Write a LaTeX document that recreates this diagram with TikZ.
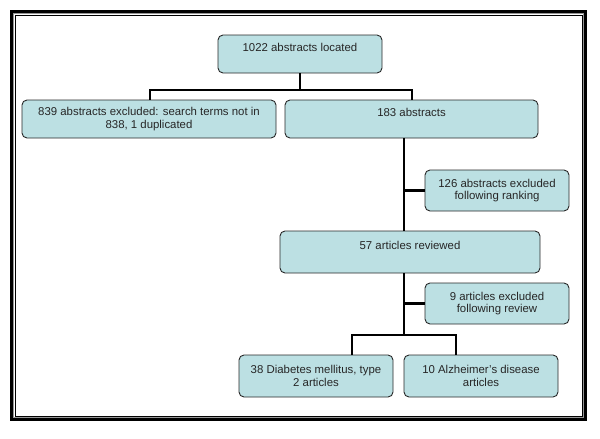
\documentclass[tikz,border=0pt]{standalone}
\usepackage{fontspec}
\setmainfont{Liberation Sans}
\definecolor{boxfill}{RGB}{188,224,227}
\definecolor{boxline}{RGB}{40,40,40}
\definecolor{framegray}{RGB}{150,150,150}
\begin{document}
\begin{tikzpicture}[x=1pt,y=-1pt,
  fbox/.style={draw=boxline,line width=0.9pt,fill=boxfill,rounded corners=5pt,
    align=center,inner sep=0pt,text=black!85,font=\fontsize{11.4}{12.8}\selectfont},
  conn/.style={line width=2.9pt,black}]
\useasboundingbox (0,0) rectangle (600,439);
% frame
\draw[line width=2.4pt,black] (11.5,11.5) rectangle (585.5,419.5);
\draw[line width=1pt,framegray] (13.5,13.5) rectangle (583.5,417.5);
\draw[line width=0.9pt,black] (15,15) rectangle (582,416);
% boxes
\node[fbox,minimum width=164pt,minimum height=38pt] (b1) at (300,54) {1022 abstracts located\\\mbox{}};
\node[fbox,minimum width=254pt,minimum height=38pt] (b2) at (149,119) {839 abstracts excluded: search terms not in\\838, 1 duplicated};
\node[fbox,minimum width=253pt,minimum height=38pt] (b3) at (411.5,119) {183 abstracts\\\mbox{}};
\node[fbox,minimum width=144pt,minimum height=41pt] (b4) at (497,190.5) {126 abstracts excluded\\following ranking};
\node[fbox,minimum width=260pt,minimum height=42pt] (b5) at (410,252) {57 articles reviewed\\\mbox{}};
\node[fbox,minimum width=144pt,minimum height=41pt] (b6) at (497,303.5) {9 articles excluded\\following review};
\node[fbox,minimum width=154pt,minimum height=42pt] (b7) at (316,376) {38 Diabetes mellitus, type\\2 articles};
\node[fbox,minimum width=154pt,minimum height=42pt] (b8) at (481,376) {10 Alzheimer's disease\\articles};
% connectors
\coordinate (j1) at (300,90);
\coordinate (t1) at (404,138);
\coordinate (t2) at (404,273);
\coordinate (j2) at (404,335);
\draw[conn] (b1.south) -- (j1);
\draw[conn] (j1) -| ([xshift=1pt]b2.north);
\draw[conn] (j1) -| ([xshift=0.5pt]b3.north);
\draw[conn] (t1) -- (t1 |- b5.north);
\draw[conn] (t1 |- b4.west) -- (b4.west);
\draw[conn] (t2) -- (j2);
\draw[conn] (t2 |- b6.west) -- (b6.west);
\draw[conn] (j2) -| ([xshift=36pt]b7.north);
\draw[conn] (j2) -| ([xshift=-25pt]b8.north);
\end{tikzpicture}
\end{document}
